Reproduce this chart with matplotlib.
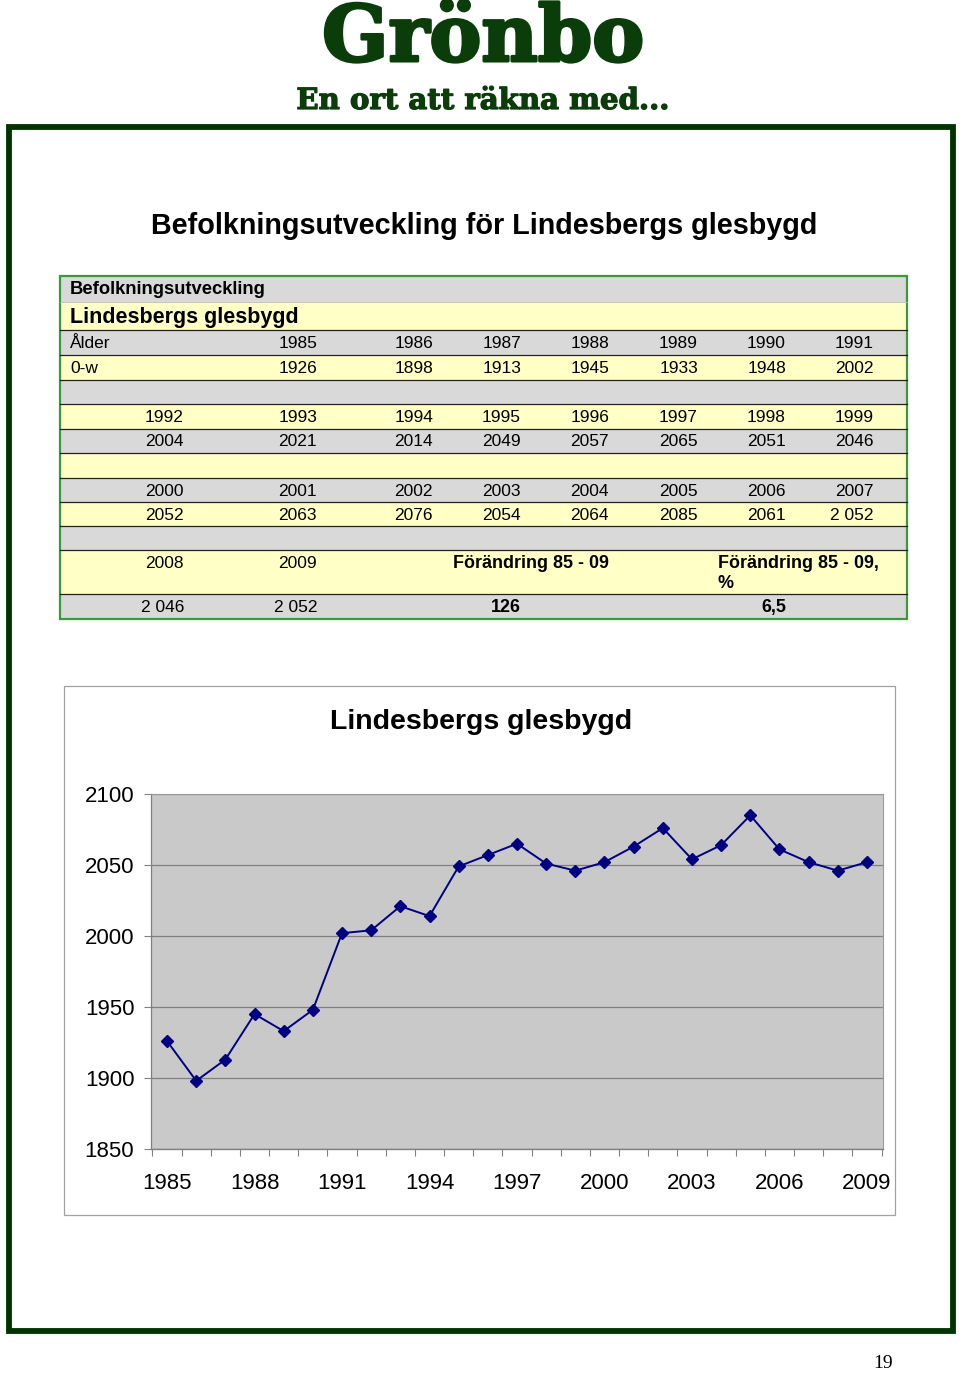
import matplotlib
matplotlib.use("Agg")
import matplotlib.pyplot as plt
import matplotlib.patheffects as pe
from matplotlib.patches import Rectangle
from matplotlib.ticker import FixedLocator, NullFormatter

# ---------------- data ----------------
years = list(range(1985, 2010))
population = [1926, 1898, 1913, 1945, 1933, 1948, 2002,
              2004, 2021, 2014, 2049, 2057, 2065, 2051, 2046,
              2052, 2063, 2076, 2054, 2064, 2085, 2061, 2052,
              2046, 2052]
y_ticks = [1850, 1900, 1950, 2000, 2050, 2100]
x_tick_labels = [str(y) for y in years[::3]]

header_title = "Grönbo"
header_sub = "En ort att räkna med..."
page_title = "Befolkningsutveckling för Lindesbergs glesbygd"
table_head = "Befolkningsutveckling"
region = "Lindesbergs glesbygd"
age_label = "Ålder"
age_group = "0-w"
change_label = "Förändring 85 - 09"
change_pct_label1 = "Förändring 85 - 09,"
change_pct_label2 = "%"
page_number = "19"

W, H = 960, 1373
fig = plt.figure(figsize=(W / 100, H / 100), dpi=100)
plt.rcParams['font.family'] = ['Liberation Sans', 'DejaVu Sans']

bg = fig.add_axes([0, 0, 1, 1])
bg.set_xlim(0, W)
bg.set_ylim(H, 0)
bg.axis('off')

green_dark = "#0b3d0b"
# header
bg.text(483, 61, header_title, family='DejaVu Serif', fontweight='bold',
        fontsize=56, color=green_dark, ha='center', va='baseline',
        path_effects=[pe.withStroke(linewidth=2.2, foreground=green_dark)])
bg.text(483, 109, header_sub, family='DejaVu Serif', fontweight='bold',
        fontsize=21, color=green_dark, ha='center', va='baseline',
        path_effects=[pe.withStroke(linewidth=0.9, foreground=green_dark)])

# frame
bg.add_patch(Rectangle((8.5, 126.5), 944, 1204, fill=False,
                       edgecolor="#003300", linewidth=4.2))

bg.text(484, 226, page_title, fontsize=20.7, fontweight='bold',
        ha='center', va='center', color='black')

# ---------------- table ----------------
tx0, tx1 = 60, 907
row_edges = [276, 302, 330, 355, 380, 404, 429, 453, 478, 502, 526, 550, 594, 619]
gray, yellow = "#d9d9d9", "#ffffc6"
for i in range(len(row_edges) - 1):
    col = gray if i % 2 == 0 else yellow
    bg.add_patch(Rectangle((tx0, row_edges[i]), tx1 - tx0,
                           row_edges[i + 1] - row_edges[i],
                           facecolor=col, edgecolor='none'))
for yy in row_edges[2:-1]:
    bg.plot([tx0, tx1], [yy, yy], color="#222222", lw=0.9)
bg.plot([tx0, tx1], [302, 302], color="#bbbbbb", lw=0.6)
bg.add_patch(Rectangle((tx0, row_edges[0]), tx1 - tx0,
                       row_edges[-1] - row_edges[0], fill=False,
                       edgecolor="#3a9a3a", linewidth=1.6))

cols = [184, 317, 433, 521, 609, 698, 786, 874]
fs = 12.5
fsb = 12.9


def fmt(year, v):
    s = str(v)
    return s[0] + " " + s[1:] if year >= 2007 else s


def rc(i):
    return (row_edges[i] + row_edges[i + 1]) / 2 + 1


bg.text(70, rc(0), table_head, fontsize=13.2, fontweight='bold', ha='left', va='center')
bg.text(70, rc(1), region, fontsize=15.5, fontweight='bold', ha='left', va='center')
bg.text(70, rc(2), age_label, fontsize=fs, ha='left', va='center')
bg.text(70, rc(3), age_group, fontsize=fs, ha='left', va='center')
for j in range(7):
    bg.text(cols[j + 1], rc(2), str(years[j]), fontsize=fs, ha='right', va='center')
    bg.text(cols[j + 1], rc(3), fmt(years[j], population[j]), fontsize=fs, ha='right', va='center')
for blk, (ry, rv) in enumerate([(5, 6), (8, 9)]):
    for j in range(8):
        k = 7 + blk * 8 + j
        bg.text(cols[j], rc(ry), str(years[k]), fontsize=fs, ha='right', va='center')
        bg.text(cols[j], rc(rv), fmt(years[k], population[k]), fontsize=fs, ha='right', va='center')
ytop12 = 563
for j in range(2):
    k = 23 + j
    bg.text(cols[j], ytop12, str(years[k]), fontsize=fs, ha='right', va='center')
    bg.text(cols[j], rc(12), fmt(years[k], population[k]), fontsize=fs, ha='right', va='center')
change = population[-1] - population[0]
pct = change / population[0] * 100
bg.text(cols[4], ytop12, change_label, fontsize=fsb, fontweight='bold', ha='right', va='center')
bg.text(718, ytop12, change_pct_label1, fontsize=fsb, fontweight='bold', ha='left', va='center')
bg.text(718, ytop12 + 21, change_pct_label2, fontsize=fsb, fontweight='bold', ha='left', va='center')
bg.text(cols[3], rc(12), str(change), fontsize=fsb, fontweight='bold', ha='right', va='center')
bg.text(cols[6], rc(12), f"{pct:.1f}".replace('.', ','), fontsize=fsb, fontweight='bold',
        ha='right', va='center')

# ---------------- chart ----------------
bg.add_patch(Rectangle((64, 686), 831, 529, facecolor='white',
                       edgecolor="#a0a0a0", linewidth=0.9))
bg.text(481, 722, region, fontsize=20.5, fontweight='bold', ha='center', va='center')

px0, px1, py0, py1 = 151, 883, 794, 1149
ax = fig.add_axes([px0 / W, (H - py1) / H, (px1 - px0) / W, (py1 - py0) / H])
ax.set_facecolor("#c9c9c9")
xs = list(range(len(years)))
ax.plot(xs, population, color="#000080", lw=1.4, marker='D', markersize=6,
        markerfacecolor="#000080", markeredgecolor="#000080", zorder=3)
ax.set_xlim(-0.55, len(years) - 0.45)
ax.set_ylim(y_ticks[0], y_ticks[-1])
ax.set_yticks(y_ticks)
ax.set_yticklabels([str(t) for t in y_ticks], fontsize=16)
ax.yaxis.grid(True, color="#7f7f7f", lw=0.9)
ax.set_axisbelow(True)
ax.set_xticks(xs[::3])
ax.set_xticklabels(x_tick_labels, fontsize=16)
ax.xaxis.set_minor_locator(FixedLocator([x - 0.5 for x in range(len(years) + 1)]))
ax.xaxis.set_minor_formatter(NullFormatter())
ax.tick_params(axis='x', which='major', length=0, pad=17.5)
ax.tick_params(axis='x', which='minor', length=5, color="#808080", width=0.8)
ax.tick_params(axis='y', length=5, color="#808080", width=0.8, pad=7)
for s in ['top', 'right']:
    ax.spines[s].set_color("#9a9a9a")
    ax.spines[s].set_linewidth(0.8)
ax.spines['left'].set_color("#808080")
ax.spines['bottom'].set_color("#808080")
ax.spines['left'].set_linewidth(0.9)
ax.spines['bottom'].set_linewidth(1.0)

bg.text(883, 1363, page_number, family='Liberation Serif', fontsize=14,
        ha='center', va='center')

fig.savefig("out.png", dpi=100)
